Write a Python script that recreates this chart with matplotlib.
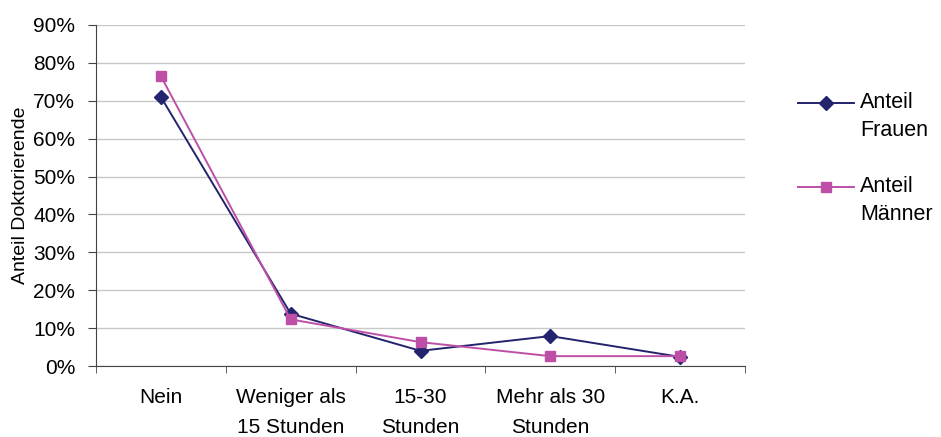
import matplotlib
matplotlib.use("Agg")
from matplotlib import pyplot as plt
from matplotlib.ticker import FixedLocator, PercentFormatter
import numpy as np

plt.rcParams['font.family'] = ['Liberation Sans', 'DejaVu Sans']

categories = ["Nein", "Weniger als\n15 Stunden", "15-30\nStunden", "Mehr als 30\nStunden", "K.A."]
frauen = [71.0, 13.8, 4.0, 7.9, 2.4]
maenner = [76.5, 12.3, 6.3, 2.6, 2.6]

fig = plt.figure(figsize=(9.41, 4.37), dpi=100)
ax = fig.add_axes([96 / 941, 1 - 366 / 437, (745 - 96) / 941, (366 - 25) / 437])

x = np.arange(len(categories))
ax.plot(x, frauen, color="#23236E", marker="D", markersize=7, linewidth=1.4, label="Anteil\nFrauen", zorder=3)
ax.plot(x, maenner, color="#BE4FA6", marker="s", markersize=7, linewidth=1.4, label="Anteil\nMänner", zorder=3)

ax.set_xlim(-0.5, len(categories) - 0.5)
ax.set_ylim(0, 90)
ax.set_yticks(np.arange(0, 91, 10))
ax.yaxis.set_major_formatter(PercentFormatter(decimals=0))
ax.set_xticks(x)
ax.set_xticklabels(categories, fontsize=15, linespacing=1.75)
ax.xaxis.set_minor_locator(FixedLocator(np.arange(-0.5, len(categories), 1)))
ax.tick_params(axis="x", which="major", length=0, pad=15.5)
ax.tick_params(axis="x", which="minor", length=5, color="#444444")
ax.tick_params(axis="y", labelsize=15, length=6, pad=9, color="#444444")
ax.set_ylabel("Anteil Doktorierende", fontsize=14, labelpad=3)

ax.grid(axis="y", color="#c8c8c8", linewidth=1)
ax.set_axisbelow(True)
for s in ["top", "right"]:
    ax.spines[s].set_visible(False)
for s in ["left", "bottom"]:
    ax.spines[s].set_color("#444444")

leg = ax.legend(loc="upper left", bbox_to_anchor=(1.065, 0.834), frameon=False, fontsize=15.5,
                handlelength=2.6, labelspacing=1.65, handletextpad=0.3, borderpad=0.0)
for t in leg.get_texts():
    t.set_linespacing(1.4)
# move handles up to the first text line
for ln in leg.get_lines():
    ln.set_ydata(np.asarray(ln.get_ydata()) + 10)

fig.savefig("out.png", dpi=100)
